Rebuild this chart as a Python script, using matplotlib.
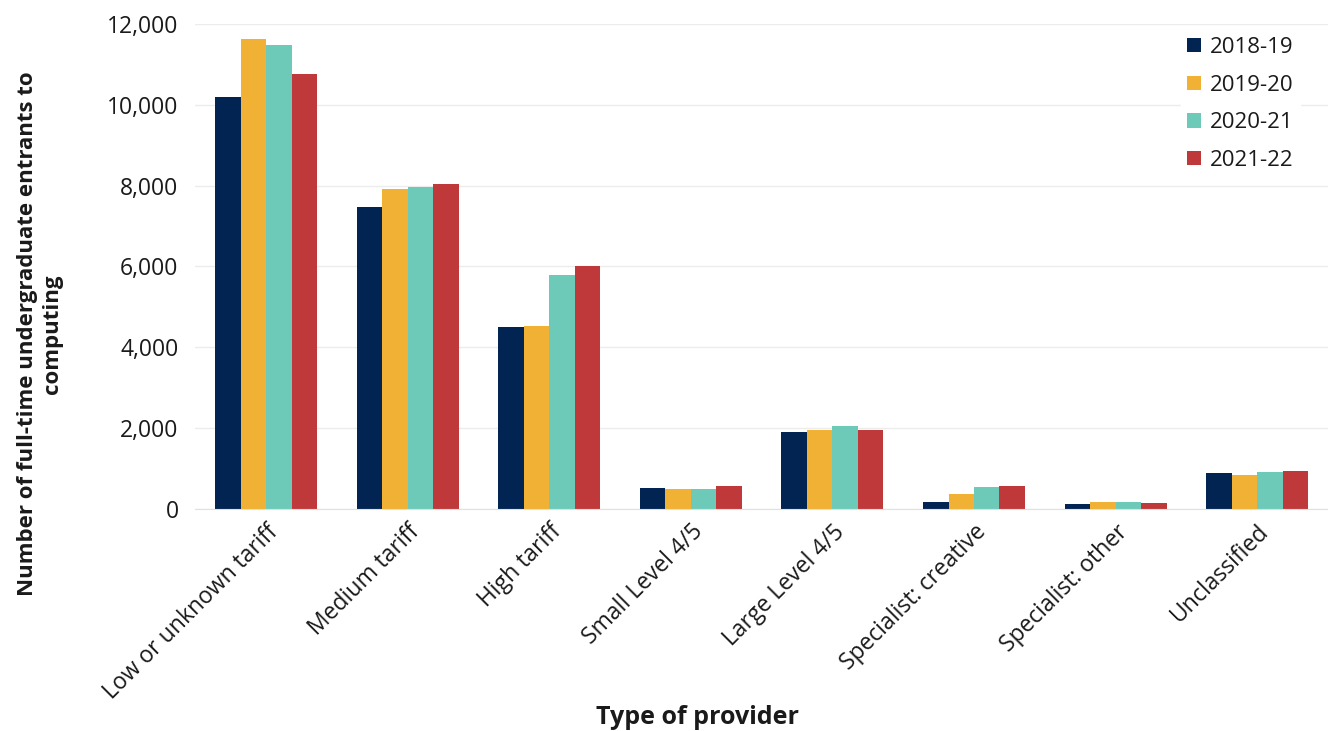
import numpy as np
import matplotlib.pyplot as plt

# categories and series values
providers = ['Low or unknown tariff', 'Medium tariff', 'High tariff', 'Small Level 4/5',
             'Large Level 4/5', 'Specialist: creative', 'Specialist: other', 'Unclassified']
years = ['2018-19', '2019-20', '2020-21', '2021-22']
y2018 = [10200, 7460, 4490, 520, 1900, 160, 120, 895]
y2019 = [11630, 7930, 4520, 490, 1955, 370, 160, 840]
y2020 = [11480, 7960, 5790, 495, 2045, 535, 160, 905]
y2021 = [10760, 8040, 6005, 560, 1955, 575, 140, 925]
colors = ['#012453', '#f0b134', '#6dcab9', '#c0393a']

plt.rcParams['font.family'] = ['Open Sans', 'DejaVu Sans']
plt.rcParams['text.color'] = '#1a1a1a'

fig = plt.figure(figsize=(13.28, 7.31), dpi=100)
ax = fig.add_axes([0.147, 0.304, 0.853, 0.663])

x = np.arange(len(providers))
w = 0.18
for i, (vals, c, lab) in enumerate(zip([y2018, y2019, y2020, y2021], colors, years)):
    ax.bar(x + (i - 1.5) * w, vals, width=w, color=c, label=lab)

ax.set_ylim(0, 12000)
ax.set_xlim(-0.5, len(providers) - 0.5)
ax.set_yticks(range(0, 12001, 2000))
ax.set_yticklabels([f'{v:,}' for v in range(0, 12001, 2000)], fontsize=16.5, color='#1a1a1a')
ax.yaxis.grid(True, color='#ececec', linewidth=1)
ax.set_axisbelow(True)
for s in ['top', 'right', 'left']:
    ax.spines[s].set_visible(False)
ax.spines['bottom'].set_color('#e0e0e0')
ax.tick_params(axis='y', length=0, pad=12)
ax.tick_params(axis='x', length=0, pad=8)
ax.set_xticks(x)
ax.set_xticklabels(providers, rotation=45, ha='right', rotation_mode='anchor', fontsize=16.5,
                   color='#1a1a1a')

ax.set_ylabel('Number of full-time undergraduate entrants to\ncomputing',
              fontsize=16, fontweight='bold', color='#1a1a1a')
# the title in the reference sits lower than the middle of the axis
ax.yaxis.set_label_coords(-0.117, 0.361)
# x-axis title placed on the figure so it sits below the long rotated labels
fig.text(0.525, 0.018, 'Type of provider', fontsize=18, fontweight='bold',
         ha='center', va='center', color='#1a1a1a')

leg = ax.legend(loc='upper right', bbox_to_anchor=(0.985, 1.01), frameon=True, fontsize=16,
                handlelength=0.6, handleheight=0.6, handletextpad=0.4, labelspacing=0.75,
                borderpad=0.3)
leg.get_frame().set_edgecolor('white')
leg.get_frame().set_facecolor('white')
leg.get_frame().set_alpha(1)

plt.savefig('out.png', dpi=100)
